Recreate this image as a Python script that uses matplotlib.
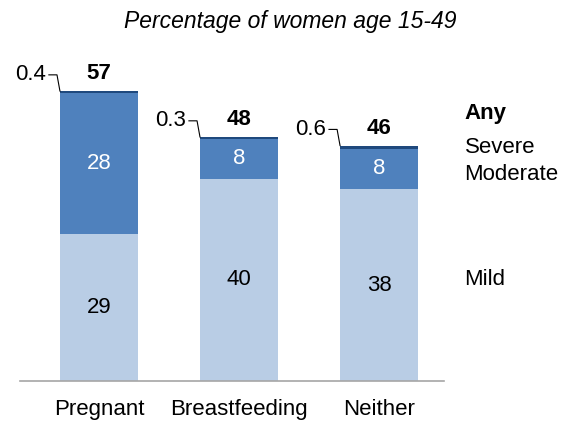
import matplotlib.pyplot as plt

plt.rcParams['font.family'] = ['Liberation Sans', 'DejaVu Sans']

categories = ['Pregnant', 'Breastfeeding', 'Neither']
mild = [29, 40, 38]
moderate = [28, 8, 8]
severe = [0.4, 0.3, 0.6]
any_anemia = [57, 48, 46]
series_names = ['Any', 'Severe', 'Moderate', 'Mild']

c_mild = '#b9cde5'
c_mod = '#4f81bd'
c_sev = '#1f497d'

fig = plt.figure(figsize=(5.7, 4.21), dpi=100)
ax = fig.add_axes([0.035, 0.095, 0.744, 0.84])

x = range(len(categories))
w = 0.557
ax.bar(x, mild, w, color=c_mild)
ax.bar(x, moderate, w, bottom=mild, color=c_mod)
tops = [m + d for m, d in zip(mild, moderate)]
ax.bar(x, severe, w, bottom=tops, color=c_sev)

fs = 16
for i in x:
    ax.text(i, mild[i] / 2, str(mild[i]), ha='center', va='center', fontsize=fs, color='black')
    ax.text(i, mild[i] + moderate[i] / 2, str(moderate[i]), ha='center', va='center',
            fontsize=fs, color='white')
    total = tops[i] + severe[i]
    ax.text(i, total + 3.4, str(any_anemia[i]), ha='center', va='center',
            fontsize=fs, fontweight='bold')
    # leader to the severe sliver
    x0 = i - w / 2
    ax.plot([x0, x0 - 0.021, x0 - 0.079], [total, total + 3.2, total + 3.2],
            color='black', lw=0.8, clip_on=False)
    ax.text(x0 - 0.1, total + 3.2, str(severe[i]), ha='right', va='center', fontsize=16)

# series labels on the right, next to the last bar
last = len(categories) - 1
lx = last + 0.61
ax.text(lx, tops[last] + severe[last] + 6.4, series_names[0], fontsize=fs,
        fontweight='bold', va='center', clip_on=False)
ax.text(lx, tops[last] + severe[last] - 0.3, series_names[1], fontsize=fs, va='center',
        clip_on=False)
ax.text(lx, mild[last] + moderate[last] / 2 - 1.2, series_names[2], fontsize=fs,
        va='center', clip_on=False)
ax.text(lx, mild[last] / 2 + 1.0, series_names[3], fontsize=fs, va='center', clip_on=False)

ax.set_xlim(-0.564, 2.464)
ax.set_ylim(0, 70)
ax.set_xticks(list(x))
ax.set_xticklabels(categories, fontsize=fs)
ax.tick_params(axis='x', length=0, pad=13)
ax.set_yticks([])
for s in ['top', 'right', 'left']:
    ax.spines[s].set_visible(False)
ax.spines['bottom'].set_color('#a6a6a6')
ax.spines['bottom'].set_linewidth(1.2)

fig.text(0.51, 0.95, 'Percentage of women age 15-49', ha='center', va='center',
         fontsize=16.5, fontstyle='italic')

fig.savefig('out.png', dpi=100)
